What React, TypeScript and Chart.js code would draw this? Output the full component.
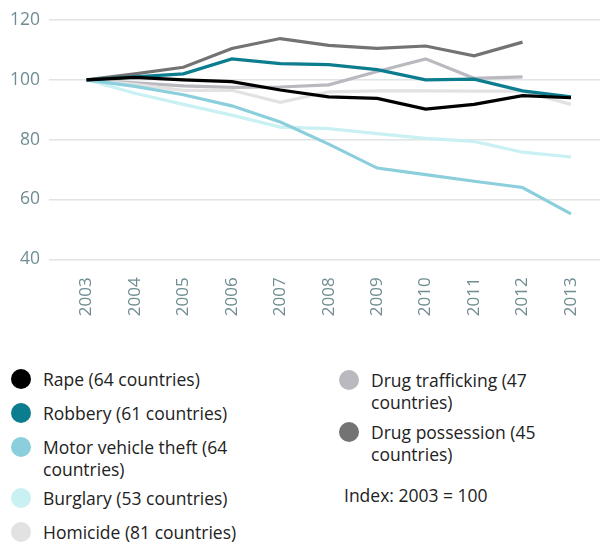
import React, { useEffect, useRef } from "react";
import { Chart, registerables } from "chart.js";

Chart.register(...registerables);

const years = [2003, 2004, 2005, 2006, 2007, 2008, 2009, 2010, 2011, 2012, 2013];
const yTicks = [40, 60, 80, 100, 120];

const seriesNames = [
  "Rape (64 countries)",
  "Robbery (61 countries)",
  "Motor vehicle theft (64 countries)",
  "Burglary (53 countries)",
  "Homicide (81 countries)",
  "Drug trafficking (47 countries)",
  "Drug possession (45 countries)",
];
const legendLeft = [
  ["Rape (64 countries)"],
  ["Robbery (61 countries)"],
  ["Motor vehicle theft (64", "countries)"],
  ["Burglary (53 countries)"],
  ["Homicide (81 countries)"],
];
const legendRight = [
  ["Drug trafficking (47", "countries)"],
  ["Drug possession (45", "countries)"],
];
const noteText = "Index: 2003 = 100";

const rape = [100, 100.8, 100, 99.4, 96.6, 94.3, 93.8, 90.2, 91.8, 94.7, 94];
const robbery = [100, 101, 102, 107, 105.4, 105.1, 103.4, 100, 100.2, 96.3, 94.3];
const motorTheft = [100, 97.8, 95, 91.3, 85.9, 78.5, 70.5, 68.3, 66.1, 64, 55.2];
const burglary = [100, 95.5, 91.8, 88.2, 84.2, 83.7, 82, 80.4, 79.4, 75.8, 74.2];
const homicide = [100, 98.5, 96.5, 96.5, 92.5, 96, 96.3, 96.3, 96.2, 96.2, 91.8];
const trafficking = [100, 99, 98, 97.5, 97.6, 98.3, 102.8, 107, 100.5, 101, null];
const possession = [100, 102, 104.2, 110.5, 113.8, 111.5, 110.5, 111.3, 108, 112.6, null];

const colors = ["#000000", "#0b7d8e", "#8ccfdc", "#c9f0f2", "#e2e2e2", "#b9b9bf", "#737373"];
const seriesValues = [rape, robbery, motorTheft, burglary, homicide, trafficking, possession];

const FONT = "'Open Sans', 'Noto Sans', sans-serif";
const TICK_COLOR = "#6f8d92";

export default function App() {
  const ref = useRef<HTMLCanvasElement | null>(null);

  useEffect(() => {
    if (!ref.current) return;
    const chart = new Chart(ref.current, {
      type: "line",
      data: {
        datasets: seriesValues.map((vals, i) => ({
          label: seriesNames[i],
          data: years.map((y, j) => ({ x: y, y: vals[j] as number })),
          borderColor: colors[i],
          backgroundColor: colors[i],
          borderWidth: 3.2,
          pointRadius: 0,
          tension: 0,
          spanGaps: false,
        })),
      },
      options: {
        animation: false,
        responsive: false,
        maintainAspectRatio: false,
        layout: { padding: { top: 20, right: 3, left: 0, bottom: 0 } },
        plugins: { legend: { display: false }, tooltip: { enabled: false } },
        scales: {
          x: {
            type: "linear",
            min: 2002.226,
            max: 2013.599,
            grid: { display: false },
            border: { display: false },
            afterBuildTicks: (scale: any) => {
              scale.ticks = years.map((v) => ({ value: v }));
            },
            afterFit: (scale: any) => {
              scale.height = 70.7;
            },
            ticks: {
              autoSkip: false,
              minRotation: 90,
              maxRotation: 90,
              padding: 10,
              color: TICK_COLOR,
              font: { family: FONT, size: 17 },
              callback: (v: any) => String(v),
            },
          },
          y: {
            min: 40,
            max: 120,
            grid: { color: "#dfe4e4", lineWidth: 1.5, drawTicks: false },
            border: { display: false },
            afterBuildTicks: (scale: any) => {
              scale.ticks = yTicks.map((v) => ({ value: v }));
            },
            afterFit: (scale: any) => {
              scale.width = 49;
            },
            ticks: {
              padding: 9,
              color: TICK_COLOR,
              font: { family: FONT, size: 17.5 },
              callback: (v: any) => String(v),
            },
          },
        },
      },
    });
    return () => chart.destroy();
  }, []);

  const item = (lines: string[], color: string, key: number, gap: number) => (
    <div key={key} style={{ display: "flex", alignItems: "flex-start", marginBottom: gap }}>
      <span
        style={{
          display: "inline-block",
          width: 20,
          height: 20,
          borderRadius: "50%",
          background: color,
          marginTop: 1,
          marginRight: 12,
          flex: "0 0 auto",
        }}
      />
      <div style={{ lineHeight: "22px", whiteSpace: "nowrap" }}>
        {lines.map((l, i) => (
          <div key={i}>{l}</div>
        ))}
      </div>
    </div>
  );

  return (
    <div style={{ position: "absolute", left: 0, top: 0, width: 603, height: 542, background: "#fff", overflow: "hidden" }}>
      <canvas ref={ref} width={603} height={330} style={{ display: "block", width: 603, height: 330 }} />
      <div style={{ position: "absolute", left: 11, top: 368, fontFamily: FONT, fontSize: 17.5, color: "#222" }}>
        {legendLeft.map((l, i) => item(l, colors[i], i, l.length > 1 ? 7 : 12))}
      </div>
      <div style={{ position: "absolute", left: 339, top: 369, fontFamily: FONT, fontSize: 17.5, color: "#222" }}>
        {legendRight.map((l, i) => item(l, colors[5 + i], i, 8))}
        <div style={{ marginTop: 19, marginLeft: 5, lineHeight: "22px" }}>{noteText}</div>
      </div>
    </div>
  );
}
